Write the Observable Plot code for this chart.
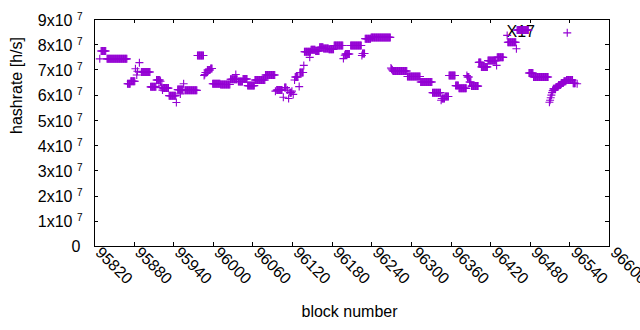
<!DOCTYPE html>
<html><head><meta charset="utf-8">
<script src="https://cdn.jsdelivr.net/npm/d3@7"></script>
<script src="https://cdn.jsdelivr.net/npm/@observablehq/plot@0.6"></script>
<style>body{margin:0;background:#fff}</style>
</head><body><div id="chart"></div>
<script>
// Runs of consecutive blocks sharing one hashrate estimate (units of 1e7 h/s)
const runStart = [95828,95830,95839,95870,95875,95882,95884,95885,95888,95891,95905,95914,95920,95921,95922,95923,95924,95933,95944,95946,95950,95955,95957,95976,95986,95987,95988,95991,95996,95999,96011,96026,96034,96038,96045,96052,96063,96079,96094,96096,96106,96108,96112,96114,96116,96119,96121,96123,96124,96130,96131,96137,96138,96146,96148,96155,96161,96167,96175,96183,96197,96199,96200,96208,96225,96226,96230,96239,96269,96270,96271,96272,96294,96314,96332,96345,96346,96351,96357,96367,96372,96384,96385,96388,96391,96402,96406,96416,96429,96430,96445,96446,96459,96460,96478,96485,96509,96510,96511,96512,96513,96514,96515,96519,96523,96527,96531,96535,96545,96551,96536];
const runEnd   = [95828,95837,95869,95874,95881,95882,95884,95885,95888,95904,95913,95919,95920,95921,95922,95923,95932,95943,95944,95954,95950,95955,95975,95985,95986,95987,95990,95995,95998,96010,96025,96036,96034,96044,96051,96062,96078,96093,96094,96104,96106,96110,96112,96114,96118,96119,96121,96123,96128,96130,96136,96137,96147,96146,96154,96160,96166,96174,96182,96196,96197,96199,96206,96224,96225,96229,96238,96268,96269,96270,96271,96293,96313,96331,96344,96345,96350,96356,96366,96371,96383,96384,96387,96390,96401,96405,96415,96428,96429,96439,96445,96458,96459,96477,96484,96507,96509,96510,96511,96512,96513,96514,96518,96522,96526,96530,96534,96544,96548,96551,96536];
const runHashrate = [7.44,7.75,7.44,6.45,6.55,7.05,6.8,6.95,7.29,6.92,6.33,6.6,6.55,6.3,6.4,6.2,6.28,5.98,5.71,6.22,6.05,6.45,6.19,7.57,6.78,6.82,6.9,7.0,7.06,6.45,6.42,6.63,6.82,6.54,6.64,6.38,6.6,6.8,6.16,6.2,5.92,6.3,6.2,5.87,6.1,6.16,6.03,6.6,6.72,6.34,6.9,7.18,7.72,7.5,7.8,7.75,7.9,7.85,7.82,7.97,7.45,7.58,7.63,7.97,7.57,7.65,8.24,8.29,7.08,7.04,7.0,6.96,6.74,6.52,6.1,5.8,5.87,5.95,6.78,6.38,6.27,6.78,6.72,6.52,6.36,7.3,7.12,7.37,7.18,7.5,8.37,8.1,7.84,8.58,6.88,6.72,5.72,5.8,5.9,6.0,6.1,6.18,6.25,6.32,6.4,6.48,6.55,6.6,6.47,6.45,8.47];

const xTicks = [95820,95880,95940,96000,96060,96120,96180,96240,96300,96360,96420,96480,96540,96600];
const xTickLabels = ["95820","95880","95940","96000","96060","96120","96180","96240","96300","96360","96420","96480","96540","96600"];
const yTicks = [0,1e7,2e7,3e7,4e7,5e7,6e7,7e7,8e7,9e7];
const yTickMantissa = ["0","1x10","2x10","3x10","4x10","5x10","6x10","7x10","8x10","9x10"];
const yTickExponent = ["","7","7","7","7","7","7","7","7","7"];
const noteText = ["X17"];
const noteBlock = [96444];
const noteHashrate = [8.52e7];
const xTitle = "block number";
const yTitle = "hashrate [h/s]";

const points = [];
runStart.forEach((s, i) => {
  for (let b = s; b <= runEnd[i]; b++) points.push({block: b, hashrate: runHashrate[i] * 1e7});
});
const notes = noteText.map((t, i) => ({t, block: noteBlock[i], hashrate: noteHashrate[i]}));

const plusSymbol = {
  draw(ctx, size) {
    const r = Math.sqrt(size / Math.PI);
    ctx.moveTo(-r, 0); ctx.lineTo(r, 0);
    ctx.moveTo(0, -r); ctx.lineTo(0, r);
  }
};

const FONT = 16;
const chart = Plot.plot({
  width: 640, height: 330,
  marginLeft: 94, marginRight: 31, marginTop: 19, marginBottom: 84,
  style: {fontFamily: "'Liberation Sans', Arial, sans-serif", background: "#fff", color: "#000"},
  x: {domain: [95820, 96600], axis: null},
  y: {domain: [0, 9e7], axis: null},
  marks: [
    Plot.text(notes, {x: "block", y: "hashrate", text: "t", textAnchor: "start", fontSize: FONT, fill: "#000"}),
    Plot.dot(points, {x: "block", y: "hashrate", symbol: plusSymbol, r: 4, fill: "none", stroke: "#9400d3", strokeWidth: 1.1}),
    Plot.tickX(xTicks, {x: d => d, insetTop: 223, stroke: "#000", shapeRendering: "crispEdges"}),
    Plot.tickX(xTicks, {x: d => d, insetBottom: 223, stroke: "#000", shapeRendering: "crispEdges"}),
    Plot.tickY(yTicks, {y: d => d, insetRight: 511, stroke: "#000", shapeRendering: "crispEdges"}),
    Plot.tickY(yTicks, {y: d => d, insetLeft: 511, stroke: "#000", shapeRendering: "crispEdges"}),
    Plot.frame({stroke: "#000", shapeRendering: "crispEdges"}),
    Plot.text(xTicks, {x: d => d, frameAnchor: "bottom", text: (d, i) => xTickLabels[i], rotate: 45, textAnchor: "start", dx: 0, dy: 7, fontSize: FONT, fill: "#000"}),
    Plot.text(yTicks, {filter: d => d > 0, y: d => d, frameAnchor: "left", text: (d, i) => yTickMantissa[i], textAnchor: "end", dx: -22, dy: 1, fontSize: FONT, fill: "#000"}),
    Plot.text(yTicks, {filter: d => d > 0, y: d => d, frameAnchor: "left", text: (d, i) => yTickExponent[i], textAnchor: "start", dx: -17.5, dy: -3, fontSize: 10, fill: "#000"}),
    Plot.text(yTicks, {filter: d => d === 0, y: d => d, frameAnchor: "left", text: (d, i) => yTickMantissa[i], textAnchor: "end", dx: -14, dy: 0, fontSize: FONT, fill: "#000"}),
    Plot.text([xTitle], {frameAnchor: "bottom", dx: -2.5, dy: 70, fontSize: FONT, fill: "#000"}),
    Plot.text([yTitle], {frameAnchor: "left", rotate: -90, dx: -78, dy: 1, fontSize: FONT, fill: "#000"})
  ]
});
document.getElementById("chart").appendChild(chart);
</script>
</body></html>
